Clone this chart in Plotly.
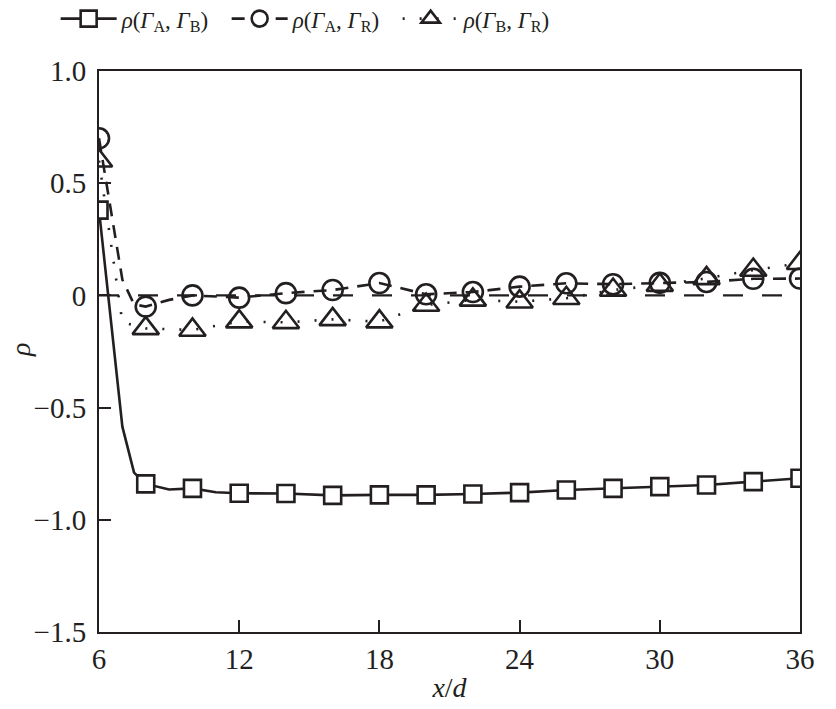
import plotly.graph_objects as go

# rho(Gamma_A, Gamma_B) — solid line, squares
ab_x = [6, 7, 7.5, 8, 9, 10, 11, 12, 14, 16, 18, 20, 22, 24, 26, 28, 30, 32, 34, 36]
ab_y = [0.38, -0.585, -0.79, -0.84, -0.865, -0.86, -0.877, -0.882, -0.883, -0.891, -0.889, -0.889,
        -0.885, -0.879, -0.867, -0.86, -0.852, -0.845, -0.83, -0.815]

# rho(Gamma_A, Gamma_R) — dashed line, circles
ar_x = [6, 7, 7.5, 8, 9, 10, 12, 14, 16, 18, 20, 22, 24, 26, 28, 30, 32, 34, 36]
ar_y = [0.70, 0.07, -0.04, -0.05, -0.02, 0.0, -0.01, 0.01, 0.024, 0.055, 0.005, 0.015, 0.039,
        0.054, 0.05, 0.056, 0.06, 0.074, 0.075]

# rho(Gamma_B, Gamma_R) — dotted line, triangles
br_x = [6, 7, 8, 10, 12, 14, 16, 18, 20, 22, 24, 26, 28, 30, 32, 34, 36]
br_y = [0.60, -0.12, -0.147, -0.154, -0.117, -0.12, -0.107, -0.117, -0.043, -0.02, -0.028,
        -0.013, 0.024, 0.046, 0.076, 0.113, 0.143]

x_ticks = [6, 12, 18, 24, 30, 36]
y_ticks = [-1.5, -1.0, -0.5, 0, 0.5, 1.0]
y_tick_text = ["\u22121.5", "\u22121.0", "\u22120.5", "0", "0.5", "1.0"]

names = [
    "<i>ρ</i>(<i>Γ</i><sub>A</sub>, <i>Γ</i><sub>B</sub>)",
    "<i>ρ</i>(<i>Γ</i><sub>A</sub>, <i>Γ</i><sub>R</sub>)",
    "<i>ρ</i>(<i>Γ</i><sub>B</sub>, <i>Γ</i><sub>R</sub>)",
]
x_title = "<i>x</i>/<i>d</i>"
y_title = "<i>ρ</i>"

INK = "#231f20"
FONT = "Times New Roman, Liberation Serif, serif"


def marker_subset(xs, ys):
    mx, my = [], []
    for x, y in zip(xs, ys):
        if float(x).is_integer() and int(x) % 2 == 0:
            mx.append(x)
            my.append(y)
    return mx, my


series = [
    (ab_x, ab_y, "solid", dict(symbol="square", size=17, color="white",
                                line=dict(color=INK, width=2.6))),
    (ar_x, ar_y, "13px,9px", dict(symbol="circle-open", size=20, color=INK,
                                   line=dict(color=INK, width=2.6))),
    (br_x, br_y, "2px,15px", dict(symbol="triangle-up-open", size=23, color=INK,
                                   line=dict(color=INK, width=2.6))),
]
legend_markers = [
    dict(symbol="square", size=17, color="white", line=dict(color=INK, width=2.6)),
    dict(symbol="circle", size=20, color="white", line=dict(color=INK, width=2.6)),
    dict(symbol="triangle-up", size=23, color="white", line=dict(color=INK, width=2.6)),
]

fig = go.Figure()
fig.add_hline(y=0, line=dict(color=INK, width=2.4, dash="20px,19px"), layer="below")

for i, (xs, ys, dash, mk) in enumerate(series):
    fig.add_trace(go.Scatter(x=xs, y=ys, mode="lines", line=dict(color=INK, width=2.6, dash=dash),
                             showlegend=False, legendgroup=str(i), hoverinfo="skip"))
for i, (xs, ys, dash, mk) in enumerate(series):
    mx, my = marker_subset(xs, ys)
    fig.add_trace(go.Scatter(x=mx, y=my, mode="markers", marker=mk,
                             showlegend=False, legendgroup=str(i)))
for i, (xs, ys, dash, mk) in enumerate(series):
    fig.add_trace(go.Scatter(x=[None], y=[None], mode="lines+markers", name=names[i],
                             line=dict(color=INK, width=2.6, dash=dash), marker=legend_markers[i],
                             legendgroup=str(i)))

axis_common = dict(
    showline=True, linecolor=INK, linewidth=2, mirror=True,
    ticks="inside", ticklen=12, tickwidth=1.6, tickcolor=INK,
    showgrid=False, zeroline=False, automargin=False,
    tickfont=dict(family=FONT, size=29, color=INK),
)

fig.update_xaxes(range=[6, 36], tickvals=x_ticks,
                 title=dict(text=x_title, font=dict(family=FONT, size=28, color=INK), standoff=4),
                 **axis_common)
fig.update_yaxes(range=[-1.5, 1.0], tickvals=y_ticks, ticktext=y_tick_text,
                 ticklabelstandoff=5, **axis_common)

fig.add_annotation(text=y_title, xref="paper", yref="paper", x=-0.111, y=0.503,
                   xanchor="center", yanchor="middle", textangle=-90, showarrow=False,
                   font=dict(family=FONT, size=28, color=INK))

fig.update_layout(
    width=836, height=709,
    margin=dict(l=91, r=44, t=63, b=85),
    paper_bgcolor="white", plot_bgcolor="white",
    font=dict(family=FONT, color=INK),
    legend=dict(orientation="h", xref="container", yref="container", x=0.057, y=0.985,
                xanchor="left", yanchor="middle", font=dict(family=FONT, size=23, color=INK),
                bgcolor="rgba(0,0,0,0)", itemwidth=56, entrywidth=100, entrywidthmode="pixels",
                tracegroupgap=0),
)

fig.write_html("out.html")
